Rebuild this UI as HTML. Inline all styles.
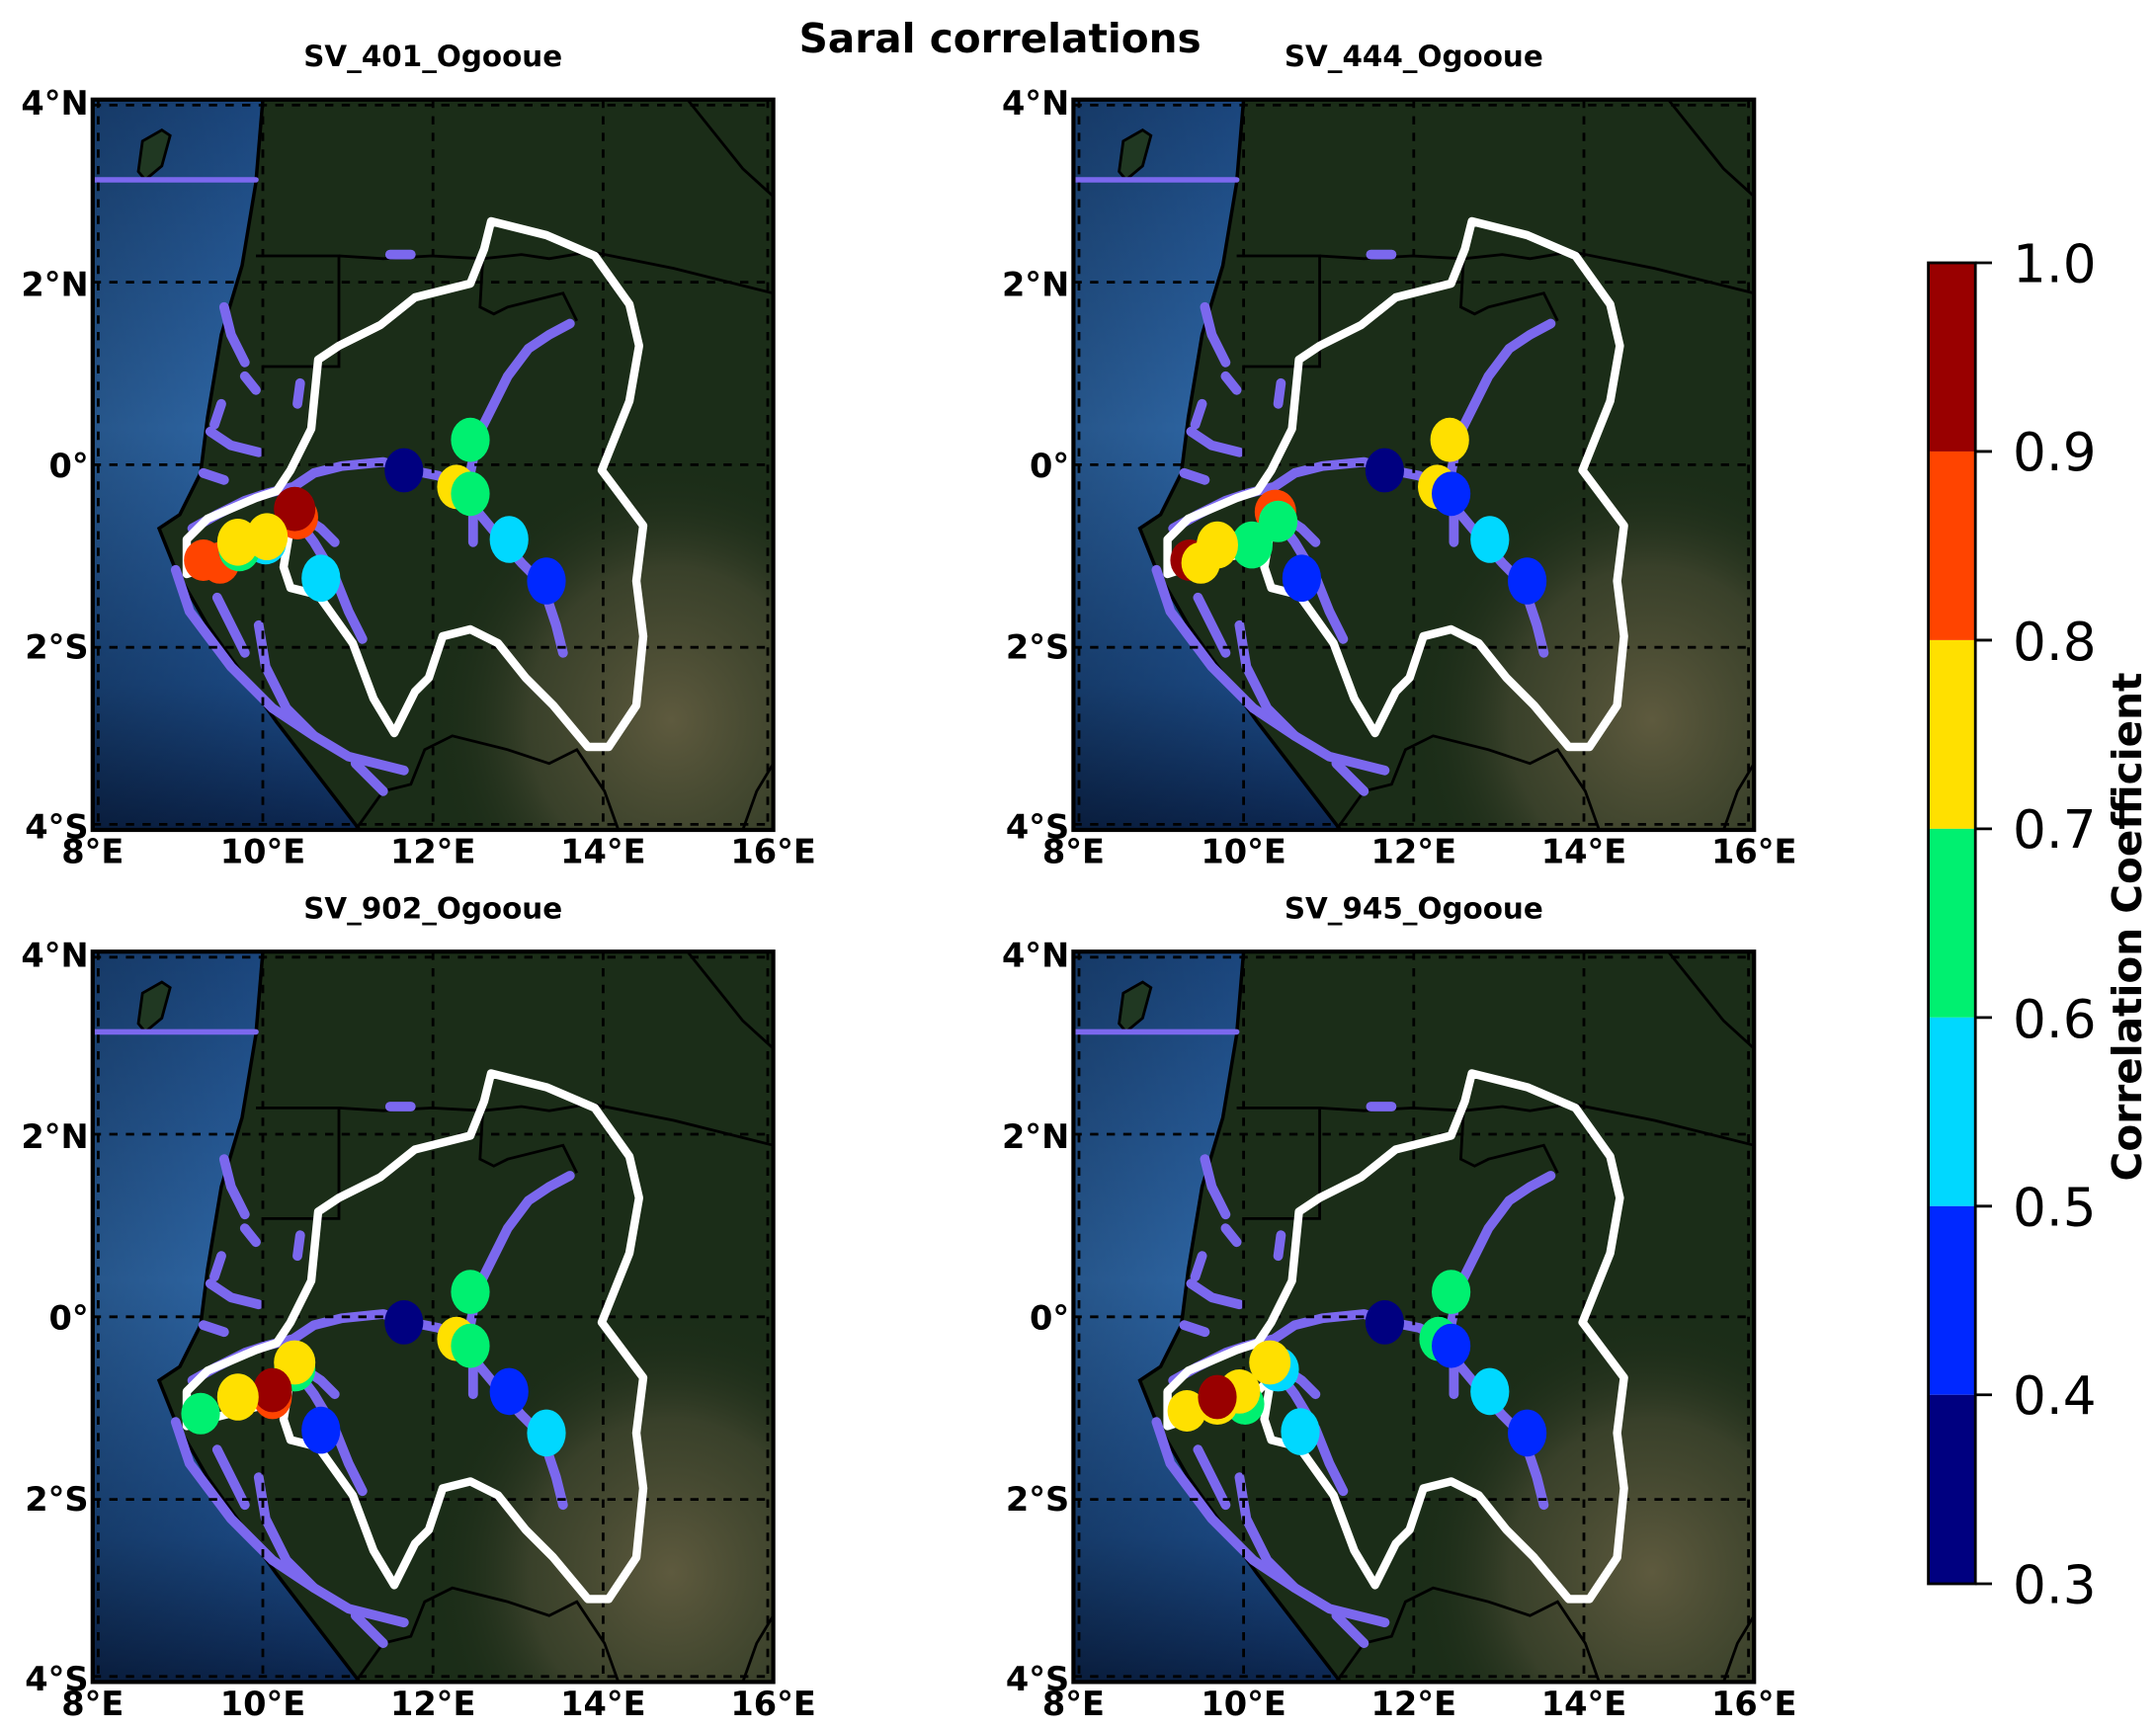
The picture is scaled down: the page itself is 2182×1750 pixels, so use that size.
<!DOCTYPE html>
<html><head><meta charset="utf-8"><style>html,body{margin:0;padding:0;background:#fff}svg{display:block}</style></head>
<body>
<svg width="2182" height="1750" viewBox="0 0 1558.57 1250" xmlns="http://www.w3.org/2000/svg" font-family="'DejaVu Sans','Liberation Sans',sans-serif">
<defs>
<linearGradient id="ocean" x1="0" y1="0" x2="0" y2="1">
<stop offset="0" stop-color="#1d4c88"/><stop offset="0.45" stop-color="#3372b8"/><stop offset="0.8" stop-color="#1d4e8c"/><stop offset="1" stop-color="#0c2650"/></linearGradient>
<linearGradient id="oceanH" x1="0" y1="0" x2="1" y2="0">
<stop offset="0" stop-color="#000" stop-opacity="0.25"/><stop offset="1" stop-color="#000" stop-opacity="0"/></linearGradient>
<radialGradient id="brown" cx="0.85" cy="0.85" r="0.35">
<stop offset="0" stop-color="#5e5a3e"/><stop offset="0.6" stop-color="#40452e" stop-opacity="0.8"/><stop offset="1" stop-color="#1d2b18" stop-opacity="0"/></radialGradient>
<clipPath id="cp"><rect x="0" y="0" width="492" height="528"/></clipPath>
<g id="map">
<g clip-path="url(#cp)">
<rect x="0" y="0" width="492" height="528" fill="#1b2d18"/>
<rect x="0" y="0" width="492" height="528" fill="url(#brown)"/>
<polygon points="0,0 123,0 118,60 108,120 93,170 83,230 78,270 63,300 48,310 60,340 83,380 133,450 193,528 0,528" fill="url(#ocean)"/>
<polygon points="0,0 123,0 118,60 108,120 93,170 83,230 78,270 63,300 48,310 60,340 83,380 133,450 193,528 0,528" fill="url(#oceanH)"/>
<polyline points="123,0 118,60 108,120 93,170 88,200 83,230 78,270 63,300 48,310 60,340 83,380 133,450 193,528" fill="none" stroke="#000" stroke-width="2.5"/>
<polygon points="36,30 50,22 56,26 50,48 38,58 33,52" fill="#203822" stroke="#000" stroke-width="2"/>
<polyline points="118,113 178,113 178,193 123,193" fill="none" stroke="#000" stroke-width="2"/>
<polyline points="178,113 210,115 245,113 282,115 310,112 330,115 360,110 420,122 492,140" fill="none" stroke="#000" stroke-width="2"/>
<polyline points="430,0 470,50 492,70" fill="none" stroke="#000" stroke-width="2"/>
<polyline points="282,115 280,150 290,155 300,150 340,140 350,160" fill="none" stroke="#000" stroke-width="2"/>
<polyline points="190,528 210,500 230,495 240,470 260,460 300,470 330,480 350,470 370,500 380,528" fill="none" stroke="#000" stroke-width="2"/>
<polyline points="470,528 480,500 492,480" fill="none" stroke="#000" stroke-width="2"/>
<g fill="none" stroke="#7b68ee" stroke-width="7" stroke-linecap="round" stroke-linejoin="round">
<line x1="0" y1="58" x2="118" y2="58" stroke-width="4"/>
<polyline points="72,310 90,300 110,290 125,285 145,280 160,270 180,265 210,262 230,268 250,272 262,278 270,285"/>
<polyline points="270,285 275,260 280,240 290,220 300,200 315,180 330,170 345,162"/>
<polyline points="270,285 280,300 295,318 310,335 325,350 335,380 340,400"/>
<polyline points="275,295 275,320"/>
<polyline points="145,300 160,320 175,345 185,370 195,390"/>
<polyline points="150,300 165,310 175,320"/>
<polyline points="60,340 70,370 85,390 100,410 130,440 160,460 185,475 225,485"/>
<polyline points="90,360 100,380 110,400"/>
<polyline points="120,380 125,410 140,440 160,460"/>
<polyline points="85,240 100,250 120,255"/>
<polyline points="80,270 95,275"/>
<polyline points="95,150 100,170 110,190"/>
<polyline points="110,200 118,210"/>
<polyline points="215,112 230,112"/>
<polyline points="150,205 148,220"/>
<polyline points="93,220 88,235"/>
<polyline points="190,480 210,500"/>
</g>
<g stroke="#000" stroke-width="2" stroke-dasharray="6,6">
<line x1="123" y1="0" x2="123" y2="528"/><line x1="246" y1="0" x2="246" y2="528"/><line x1="369" y1="0" x2="369" y2="528"/><line x1="488" y1="0" x2="488" y2="528"/><line x1="4" y1="0" x2="4" y2="528"/>
<line x1="0" y1="132" x2="492" y2="132"/><line x1="0" y1="264" x2="492" y2="264"/><line x1="0" y1="396" x2="492" y2="396"/><line x1="0" y1="4" x2="492" y2="4"/><line x1="0" y1="524" x2="492" y2="524"/>
</g>
<polygon points="288,88 328,98 363,113 388,148 395,178 388,218 368,268 398,308 393,348 398,388 393,438 373,468 358,468 333,438 313,418 293,393 273,383 253,388 243,418 233,428 218,458 203,433 188,393 163,358 143,353 138,338 143,308 123,328 103,333 83,338 68,343 68,318 83,303 118,288 133,283 143,268 158,238 163,188 178,178 208,163 233,143 273,133 283,108" fill="none" stroke="#fff" stroke-width="6" stroke-linejoin="round"/>
</g>
<rect x="0" y="0" width="492" height="528" fill="none" stroke="#000" stroke-width="3"/>
</g>
<g id="ticks" font-weight="bold" font-size="24" fill="#000">
<text x="-3" y="11" text-anchor="end">4°N</text>
<text x="-3" y="142" text-anchor="end">2°N</text>
<text x="-3" y="273" text-anchor="end">0°</text>
<text x="-3" y="404" text-anchor="end">2°S</text>
<text x="-3" y="534" text-anchor="end">4°S</text>
<text x="0" y="552" text-anchor="middle">8°E</text>
<text x="123" y="552" text-anchor="middle">10°E</text>
<text x="246" y="552" text-anchor="middle">12°E</text>
<text x="369" y="552" text-anchor="middle">14°E</text>
<text x="492" y="552" text-anchor="middle">16°E</text>
</g>
</defs>

<text x="723" y="38" text-anchor="middle" font-weight="bold" font-size="29">Saral correlations</text>

<g transform="translate(67,72)">
<use href="#map"/><use href="#ticks"/>
<text x="246" y="-24" text-anchor="middle" font-weight="bold" font-size="21">SV_401_Ogooue</text>
<ellipse cx="80" cy="333" rx="14" ry="15" fill="#ff4400"/>
<ellipse cx="92" cy="335" rx="14" ry="15" fill="#ff4400"/>
<ellipse cx="148" cy="302" rx="15" ry="16" fill="#ff4400"/>
<ellipse cx="146" cy="296" rx="15" ry="16" fill="#990000"/>
<ellipse cx="125" cy="320" rx="15" ry="16" fill="#00d8ff"/>
<ellipse cx="106" cy="325" rx="15" ry="16" fill="#00f070"/>
<ellipse cx="126" cy="316" rx="15" ry="17" fill="#ffe000"/>
<ellipse cx="105" cy="320" rx="15" ry="17" fill="#ffe000"/>
<ellipse cx="165" cy="346" rx="14" ry="17" fill="#00d8ff"/>
<ellipse cx="225" cy="268" rx="14" ry="16" fill="#000080"/>
<ellipse cx="273" cy="246" rx="14" ry="16" fill="#00f070"/>
<ellipse cx="263" cy="280" rx="14" ry="16" fill="#ffe000"/>
<ellipse cx="273" cy="285" rx="14" ry="16" fill="#00f070"/>
<ellipse cx="301" cy="318" rx="14" ry="17" fill="#00d8ff"/>
<ellipse cx="328" cy="348" rx="14" ry="17" fill="#0028ff"/>
</g>

<g transform="translate(776,72)">
<use href="#map"/><use href="#ticks"/>
<text x="246" y="-24" text-anchor="middle" font-weight="bold" font-size="21">SV_444_Ogooue</text>
<ellipse cx="84" cy="333" rx="14" ry="15" fill="#990000"/>
<ellipse cx="92" cy="335" rx="14" ry="15" fill="#ffe000"/>
<ellipse cx="146" cy="298" rx="15" ry="16" fill="#ff4400"/>
<ellipse cx="148" cy="305" rx="14" ry="15" fill="#00f070"/>
<ellipse cx="129" cy="322" rx="15" ry="17" fill="#00f070"/>
<ellipse cx="104" cy="322" rx="15" ry="17" fill="#ffe000"/>
<ellipse cx="165" cy="346" rx="14" ry="17" fill="#0028ff"/>
<ellipse cx="225" cy="268" rx="14" ry="16" fill="#000080"/>
<ellipse cx="272" cy="246" rx="14" ry="16" fill="#ffe000"/>
<ellipse cx="263" cy="280" rx="14" ry="16" fill="#ffe000"/>
<ellipse cx="273" cy="285" rx="14" ry="16" fill="#0028ff"/>
<ellipse cx="301" cy="318" rx="14" ry="17" fill="#00d8ff"/>
<ellipse cx="328" cy="348" rx="14" ry="17" fill="#0028ff"/>
</g>

<g transform="translate(67,688)">
<use href="#map"/><use href="#ticks"/>
<text x="246" y="-24" text-anchor="middle" font-weight="bold" font-size="21">SV_902_Ogooue</text>
<ellipse cx="78" cy="334" rx="14" ry="15" fill="#00f070"/>
<ellipse cx="146" cy="302" rx="15" ry="16" fill="#00f070"/>
<ellipse cx="146" cy="297" rx="15" ry="16" fill="#ffe000"/>
<ellipse cx="130" cy="322" rx="14" ry="16" fill="#ff4400"/>
<ellipse cx="130" cy="317" rx="14" ry="16" fill="#990000"/>
<ellipse cx="105" cy="322" rx="15" ry="17" fill="#ffe000"/>
<ellipse cx="165" cy="346" rx="14" ry="17" fill="#0028ff"/>
<ellipse cx="225" cy="268" rx="14" ry="16" fill="#000080"/>
<ellipse cx="273" cy="246" rx="14" ry="16" fill="#00f070"/>
<ellipse cx="263" cy="280" rx="14" ry="16" fill="#ffe000"/>
<ellipse cx="273" cy="285" rx="14" ry="16" fill="#00f070"/>
<ellipse cx="301" cy="318" rx="14" ry="17" fill="#0028ff"/>
<ellipse cx="328" cy="348" rx="14" ry="17" fill="#00d8ff"/>
</g>

<g transform="translate(776,688)">
<use href="#map"/><use href="#ticks"/>
<text x="246" y="-24" text-anchor="middle" font-weight="bold" font-size="21">SV_945_Ogooue</text>
<ellipse cx="82" cy="332" rx="14" ry="15" fill="#ffe000"/>
<ellipse cx="148" cy="302" rx="15" ry="16" fill="#00d8ff"/>
<ellipse cx="142" cy="297" rx="15" ry="16" fill="#ffe000"/>
<ellipse cx="124" cy="327" rx="14" ry="15" fill="#00f070"/>
<ellipse cx="120" cy="318" rx="15" ry="16" fill="#ffe000"/>
<ellipse cx="104" cy="327" rx="15" ry="15" fill="#ffe000"/>
<ellipse cx="104" cy="322" rx="14" ry="16" fill="#990000"/>
<ellipse cx="164" cy="347" rx="14" ry="17" fill="#00d8ff"/>
<ellipse cx="225" cy="268" rx="14" ry="16" fill="#000080"/>
<ellipse cx="273" cy="246" rx="14" ry="16" fill="#00f070"/>
<ellipse cx="264" cy="280" rx="14" ry="16" fill="#00f070"/>
<ellipse cx="273" cy="285" rx="14" ry="16" fill="#0028ff"/>
<ellipse cx="301" cy="318" rx="14" ry="17" fill="#00d8ff"/>
<ellipse cx="328" cy="348" rx="14" ry="17" fill="#0028ff"/>
</g>

<g>
<rect x="1394" y="190" width="34" height="136.4" fill="#990000"/>
<rect x="1394" y="326.4" width="34" height="136.4" fill="#ff4400"/>
<rect x="1394" y="462.8" width="34" height="136.4" fill="#ffe000"/>
<rect x="1394" y="599.2" width="34" height="136.4" fill="#00f070"/>
<rect x="1394" y="735.6" width="34" height="136.4" fill="#00d8ff"/>
<rect x="1394" y="872" width="34" height="136.4" fill="#0028ff"/>
<rect x="1394" y="1008.4" width="34" height="136.6" fill="#000080"/>
<rect x="1394" y="190" width="34" height="955" fill="none" stroke="#000" stroke-width="2"/>
<g stroke="#000" stroke-width="2">
<line x1="1428" y1="190" x2="1440" y2="190"/><line x1="1428" y1="326.4" x2="1440" y2="326.4"/><line x1="1428" y1="462.8" x2="1440" y2="462.8"/><line x1="1428" y1="599.2" x2="1440" y2="599.2"/><line x1="1428" y1="735.6" x2="1440" y2="735.6"/><line x1="1428" y1="872" x2="1440" y2="872"/><line x1="1428" y1="1008.4" x2="1440" y2="1008.4"/><line x1="1428" y1="1145" x2="1440" y2="1145"/>
</g>
<g font-size="38" fill="#000">
<text x="1455" y="204">1.0</text><text x="1455" y="340">0.9</text><text x="1455" y="477">0.8</text><text x="1455" y="613">0.7</text><text x="1455" y="750">0.6</text><text x="1455" y="886">0.5</text><text x="1455" y="1022">0.4</text><text x="1455" y="1159">0.3</text>
</g>
<text transform="translate(1548,670) rotate(-90)" text-anchor="middle" font-weight="bold" font-size="29">Correlation Coefficient</text>
</g>
</svg>
</body></html>
